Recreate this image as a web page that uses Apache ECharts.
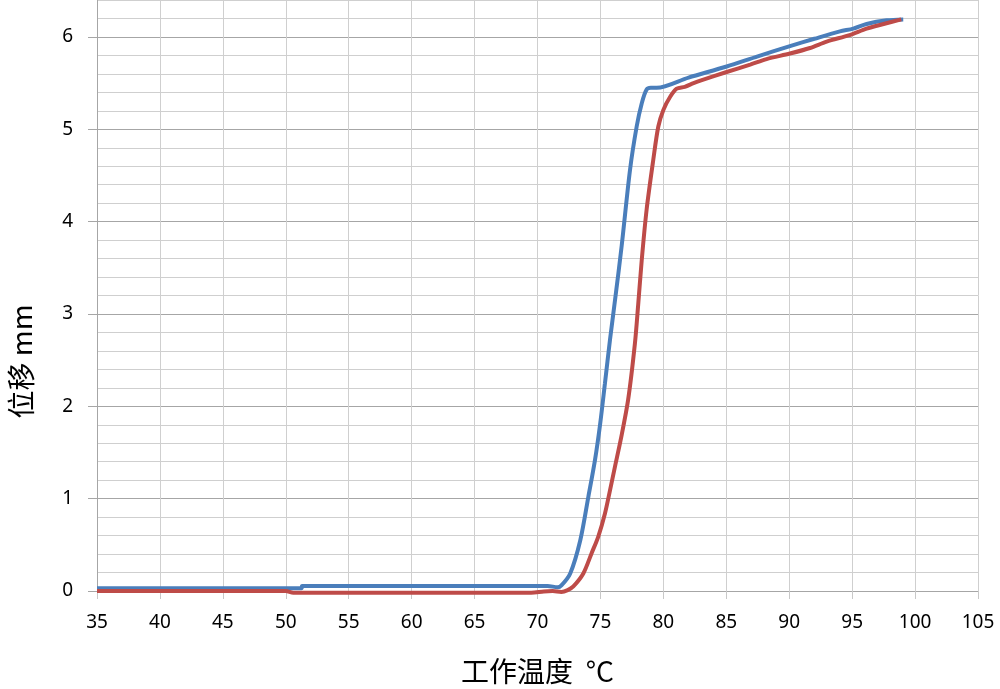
<!DOCTYPE html>
<html lang="zh">
<head>
    <meta charset="UTF-8">
    <script src="https://cdn.jsdelivr.net/npm/echarts@6/dist/echarts.min.js"></script>
    <style>
        html, body { margin: 0; padding: 0; background: #fff; }
        #chart { width: 1000px; height: 689px; }
    </style>
</head>
<body>
<div id="chart"></div>
<script type="text/javascript">

    // blue curve (temperature in °C, displacement in mm)
    const tempBlue = [35, 51.25, 51.3, 70.8, 71.6, 71.9, 72.6, 73.4, 74.04, 74.57, 74.97, 75.36, 75.76, 76.16, 76.69, 77.35, 77.88, 78.28, 78.67, 79.0, 79.47, 82, 85.03, 87.5, 90.06, 92, 94.03, 95.09, 96.15, 97.74, 99.06];
    const dispBlue = [0.03, 0.03, 0.055, 0.055, 0.04, 0.06, 0.19, 0.55, 1.02, 1.42, 1.8, 2.25, 2.72, 3.15, 3.74, 4.56, 5.03, 5.28, 5.43, 5.45, 5.45, 5.56, 5.68, 5.79, 5.90, 5.98, 6.06, 6.09, 6.14, 6.18, 6.19];

    // red curve
    const tempRed = [35, 50, 50.6, 69.5, 70.5, 71.2, 71.9, 72.4, 72.85, 73.64, 74.3, 74.83, 75.36, 75.76, 76.16, 76.6, 77.2, 77.74, 78.0, 78.28, 78.67, 79.2, 79.6, 80.0, 80.53, 81.06, 81.7, 82.4, 83, 85.03, 86.9, 88.2, 90.06, 91.65, 92.98, 94.8, 96.15, 97.5, 98.9];
    const dispRed = [0, 0, -0.02, -0.02, -0.005, 0, -0.01, 0.01, 0.05, 0.19, 0.41, 0.59, 0.84, 1.09, 1.35, 1.63, 2.07, 2.68, 3.1, 3.58, 4.13, 4.67, 5.03, 5.21, 5.35, 5.44, 5.46, 5.50, 5.53, 5.62, 5.70, 5.76, 5.82, 5.88, 5.95, 6.02, 6.09, 6.14, 6.19];

    const xMin = 35, xMax = 105, xStep = 5;
    const yMin = 0, yMax = 6.4, yMinorStep = 0.2, yMajorStep = 1;

    function pairs(xs, ys) {
        return xs.map(function (x, i) { return [x, ys[i]]; });
    }

    let chart = echarts.init(document.getElementById('chart'));

    let option = {
        animation: false,
        grid: { left: 97, right: 22, top: 0, bottom: 98, outerBoundsMode: 'none' },
        xAxis: {
            type: 'value',
            min: xMin,
            max: xMax,
            interval: xStep,
            name: '工作温度  °C',
            nameLocation: 'middle',
            nameGap: 66,
            nameTextStyle: { fontFamily: 'Noto Sans CJK SC', fontSize: 28, color: '#000' },
            axisLine: { show: true, onZero: false, lineStyle: { color: '#a6a6a6', width: 1 } },
            axisTick: { show: true, length: 8, lineStyle: { color: '#c8c8c8' } },
            axisLabel: { fontFamily: 'Noto Sans', fontSize: 19, color: '#000', margin: 22 },
            splitLine: { show: true, lineStyle: { color: '#cfcfcf', width: 1 } }
        },
        yAxis: [
            {
                // minor grid every 0.2, darker on whole numbers
                type: 'value',
                min: yMin,
                max: yMax,
                interval: yMinorStep,
                axisLine: { show: true, lineStyle: { color: '#a6a6a6', width: 1 } },
                axisTick: { show: false },
                axisLabel: { show: false },
                splitLine: {
                    show: true,
                    lineStyle: { color: ['#a6a6a6', '#cfcfcf', '#cfcfcf', '#cfcfcf', '#cfcfcf'], width: 1 }
                }
            },
            {
                type: 'value',
                min: yMin,
                max: yMax,
                interval: yMajorStep,
                position: 'left',
                name: '位移 mm',
                nameLocation: 'middle',
                nameGap: 62,
                nameRotate: 90,
                nameTextStyle: { fontFamily: 'Noto Sans CJK SC', fontSize: 28, color: '#000', padding: [0, 132, 0, 0] },
                axisLine: { show: false },
                axisTick: { show: true, length: 9, lineStyle: { color: '#a6a6a6' } },
                axisLabel: { fontFamily: 'Noto Sans', fontSize: 19, color: '#000', margin: 24, showMaxLabel: false },
                splitLine: { show: false }
            }
        ],
        series: [
            {
                type: 'line',
                data: pairs(tempBlue, dispBlue),
                showSymbol: false,
                smooth: 0.3,
                clip: false,
                lineStyle: { color: '#4a7ebb', width: 4 },
                itemStyle: { color: '#4a7ebb' }
            },
            {
                type: 'line',
                data: pairs(tempRed, dispRed),
                showSymbol: false,
                smooth: 0.3,
                clip: false,
                lineStyle: { color: '#be4b48', width: 4 },
                itemStyle: { color: '#be4b48' }
            }
        ]
    };

    chart.setOption(option);

</script>
</body>
</html>
